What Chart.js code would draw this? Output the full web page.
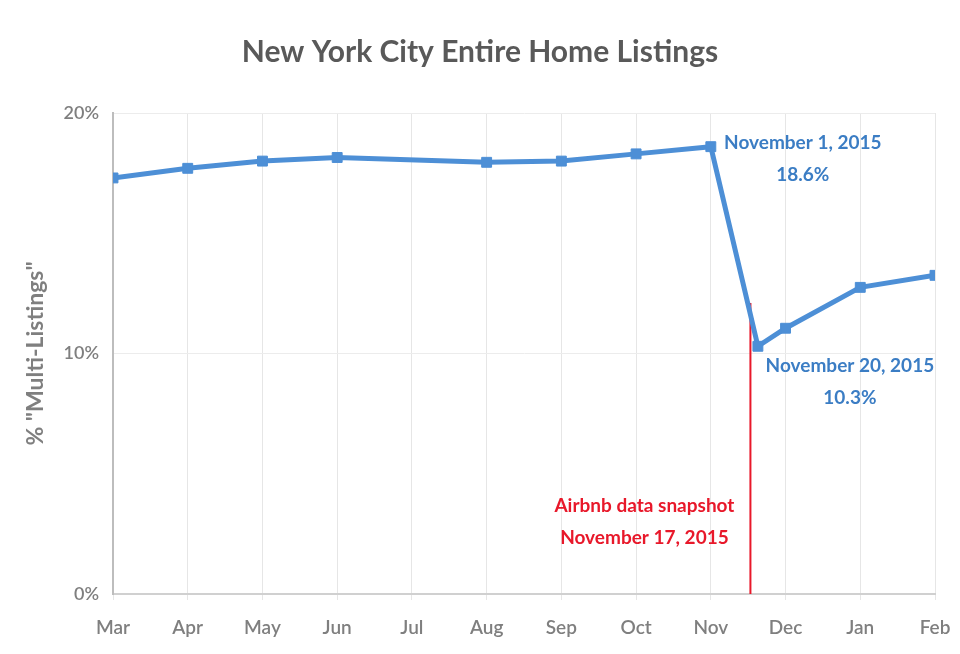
<!DOCTYPE html>
<html>
<head>
<meta charset="utf-8">
<script src="https://cdn.jsdelivr.net/npm/chart.js@4.4.0/dist/chart.umd.min.js"></script>
<style>
  html, body { margin: 0; padding: 0; background: #fff; }
  #wrap { width: 960px; height: 654px; }
</style>
</head>
<body>
<div id="wrap"><canvas id="chart"></canvas></div>
<script>
// month tick labels (x = 0..11)
const monthLabels = ["Mar", "Apr", "May", "Jun", "Jul", "Aug", "Sep", "Oct", "Nov", "Dec", "Jan", "Feb"];

// observed points: position in months from Mar, share of multi-listings (%)
const pointMonths = [0, 1, 2, 3, 5, 6, 7, 8, 8.63, 9, 10, 11];
const pointValues = [17.3, 17.7, 18.0, 18.15, 17.95, 18.0, 18.3, 18.6, 10.3, 11.05, 12.75, 13.25];

const yTicks = [0, 10, 20];

// Airbnb snapshot date (Nov 17) on the same month scale
const snapshotMonth = 8.53;
const snapshotTop = 12.1;

const blue = "#4d8fd6";
const grey = "#7f7f7f";
const font = "Lato, 'Open Sans', sans-serif";

const notes = [
  { x: 8.0, y: 18.6, dx: 92, dy: -4, lines: ["November 1, 2015", "18.6%"], color: "#3b7dc4" },
  { x: 8.63, y: 10.3, dx: 92, dy: 20, lines: ["November 20, 2015", "10.3%"], color: "#3b7dc4" },
  { x: 8.53, y: 0, dx: -106, dy: -88, lines: ["Airbnb data snapshot", "November 17, 2015"], color: "#e8182a" }
];

const annotate = {
  id: "annotate",
  beforeDatasetsDraw(chart) {
    const { ctx, scales } = chart;
    const x = scales.x.getPixelForValue(snapshotMonth);
    ctx.save();
    ctx.strokeStyle = "#e8182a";
    ctx.lineWidth = 2;
    ctx.beginPath();
    ctx.moveTo(x, scales.y.getPixelForValue(snapshotTop));
    ctx.lineTo(x, scales.y.getPixelForValue(0));
    ctx.stroke();
    ctx.restore();
  },
  afterDraw(chart) {
    const { ctx, scales } = chart;
    ctx.save();
    // title
    ctx.fillStyle = "#595959";
    ctx.font = "bold 30px " + font;
    ctx.textAlign = "center";
    ctx.textBaseline = "middle";
    ctx.fillText("New York City Entire Home Listings", 480, 52);

    ctx.font = "bold 19px " + font;
    notes.forEach(n => {
      const px = scales.x.getPixelForValue(n.x) + n.dx;
      const py = scales.y.getPixelForValue(n.y) + n.dy;
      ctx.fillStyle = n.color;
      n.lines.forEach((line, i) => ctx.fillText(line, px, py + i * 32));
    });
    ctx.restore();
  }
};

new Chart(document.getElementById("chart"), {
  type: "line",
  data: {
    datasets: [{
      data: pointMonths.map((m, i) => ({ x: m, y: pointValues[i] })),
      borderColor: blue,
      backgroundColor: blue,
      borderWidth: 5,
      pointStyle: "rect",
      pointRadius: 7,
      pointBorderWidth: 1,
      tension: 0
    }]
  },
  options: {
    responsive: true,
    maintainAspectRatio: false,
    animation: false,
    layout: { padding: { top: 113, right: 25, left: 0, bottom: 0 } },
    plugins: { legend: { display: false }, tooltip: { enabled: false } },
    scales: {
      x: {
        type: "linear",
        min: 0,
        max: 11,
        afterBuildTicks: s => { s.ticks = monthLabels.map((_, i) => ({ value: i })); },
        afterFit: s => { s.height = 60; s.paddingLeft = 0; s.paddingRight = 0; },
        ticks: {
          callback: v => monthLabels[v],
          color: grey,
          font: { family: font, size: 19, weight: "600" },
          padding: 16,
          maxRotation: 0,
          autoSkip: false
        },
        grid: { color: "#e6e6e6", lineWidth: 1, tickLength: 6 },
        border: { color: "#d0d0d0", width: 2 }
      },
      y: {
        min: 0,
        max: 20,
        afterBuildTicks: s => { s.ticks = yTicks.map(v => ({ value: v })); },
        afterFit: s => { s.width = 113; },
        ticks: {
          callback: v => v + "%",
          color: grey,
          font: { family: font, size: 18, weight: "600" },
          padding: 14
        },
        grid: { color: "#ececec", lineWidth: 1, drawTicks: false },
        border: { color: "#bdbdbd", width: 2 },
        title: {
          display: true,
          text: "% \"Multi-Listings\"",
          color: grey,
          font: { family: font, size: 23, weight: "bold" },
          padding: { top: 22, bottom: 0 }
        }
      }
    }
  },
  plugins: [annotate]
});
</script>
</body>
</html>
